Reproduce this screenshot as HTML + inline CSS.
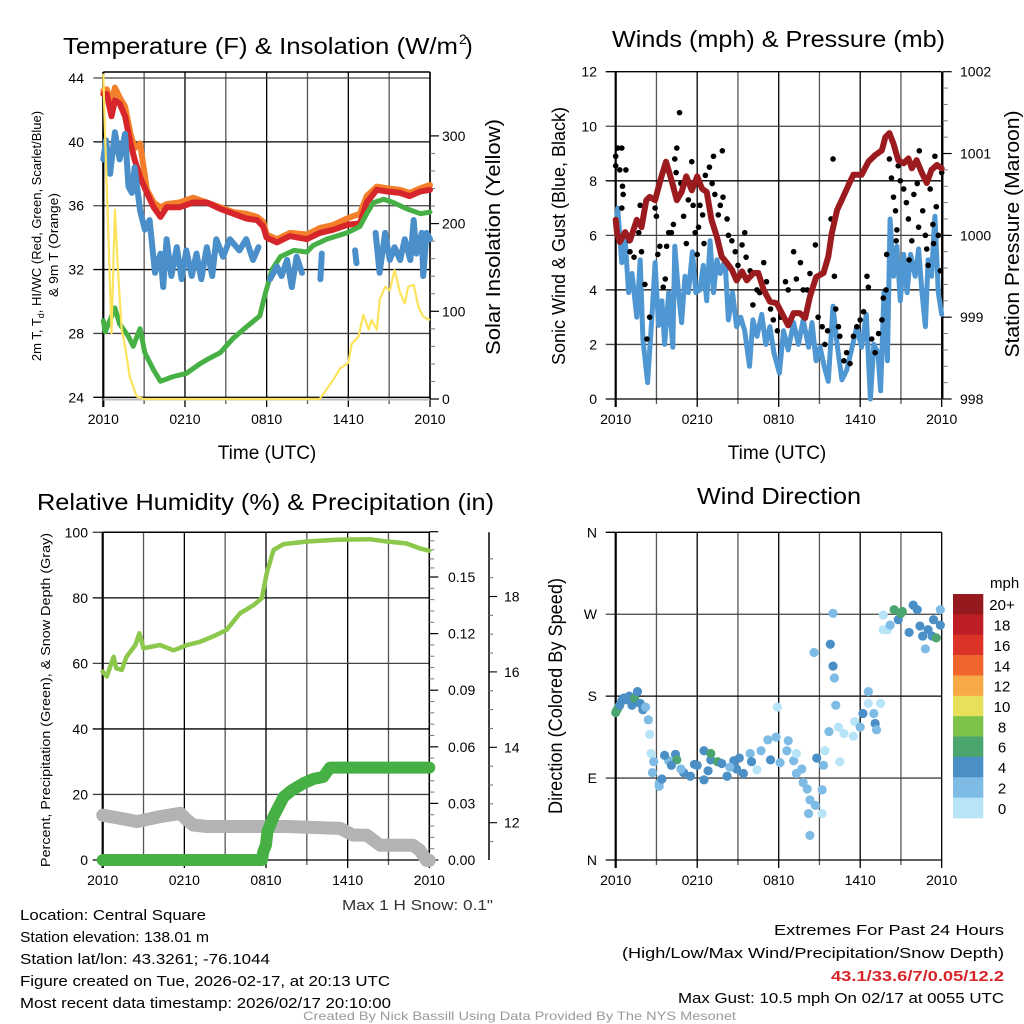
<!DOCTYPE html>
<html><head><meta charset="utf-8"><style>
html,body{margin:0;padding:0;background:#fff;}
svg{display:block;font-family:"Liberation Sans",sans-serif;}
</style></head><body>
<svg id="fig" width="1024" height="1024" viewBox="0 0 1024 1024" xmlns="http://www.w3.org/2000/svg">
<rect x="0" y="0" width="1024" height="1024" fill="#fff"/>
<g font-size="23" fill="#000">
<text x="63" y="54" textLength="395" lengthAdjust="spacingAndGlyphs">Temperature (F) &amp; Insolation (W/m</text><text x="459" y="44" font-size="14">2</text><text x="465" y="54">)</text>
<text x="612" y="47" textLength="333" lengthAdjust="spacingAndGlyphs">Winds (mph) &amp; Pressure (mb)</text>
<text x="37" y="510" textLength="457" lengthAdjust="spacingAndGlyphs">Relative Humidity (%) &amp; Precipitation (in)</text>
<text x="697" y="504" textLength="164" lengthAdjust="spacingAndGlyphs">Wind Direction</text>
</g>
<g id="layer"></g>
<g font-size="15" fill="#000">
<text x="20" y="920" textLength="186" lengthAdjust="spacingAndGlyphs">Location: Central Square</text>
<text x="20" y="942" textLength="189" lengthAdjust="spacingAndGlyphs">Station elevation: 138.01 m</text>
<text x="20" y="964" textLength="250" lengthAdjust="spacingAndGlyphs">Station lat/lon: 43.3261; -76.1044</text>
<text x="20" y="986" textLength="370" lengthAdjust="spacingAndGlyphs">Figure created on Tue, 2026-02-17, at 20:13 UTC</text>
<text x="20" y="1008" textLength="371" lengthAdjust="spacingAndGlyphs">Most recent data timestamp: 2026/02/17 20:10:00</text>
<text x="774" y="935" textLength="230" lengthAdjust="spacingAndGlyphs">Extremes For Past 24 Hours</text>
<text x="622" y="958" textLength="382" lengthAdjust="spacingAndGlyphs">(High/Low/Max Wind/Precipitation/Snow Depth)</text>
<text x="831" y="981" font-weight="bold" fill="#d7262b" textLength="173" lengthAdjust="spacingAndGlyphs">43.1/33.6/7/0.05/12.2</text>
<text x="678" y="1003" textLength="326" lengthAdjust="spacingAndGlyphs">Max Gust: 10.5 mph On 02/17 at 0055 UTC</text>
<text x="342" y="910" fill="#333" textLength="151" lengthAdjust="spacingAndGlyphs">Max 1 H Snow: 0.1"</text>
<text x="303" y="1020" font-size="12" fill="#999" textLength="433" lengthAdjust="spacingAndGlyphs">Created By Nick Bassill Using Data Provided By The NYS Mesonet</text>
</g>
</svg>
<script>
// ---------- DATA ----------
var timeTicks = ["2010","0210","0810","1410","2010"];
// Panel 1: temperature (F) and insolation
var redT = [0,0.25,0.6,0.85,1.2,1.6,2,2.3,2.7,3.2,3.7,4.2,4.65,5.6,6.6,7.6,8.6,9.55,10.5,11.3,11.75,12,12.75,13.7,14.95,15.9,16.9,17.9,18.85,19.35,20.1,20.8,21.8,22.5,23.3,24];
var redV = [43,43,41.6,42.6,42.4,41.6,39.9,38.9,37.8,36.8,35.9,35.3,35.9,35.9,36.2,36.2,35.8,35.5,35.2,35.1,34.7,34,33.7,34.1,33.9,34.3,34.5,34.8,34.9,36.2,37,36.9,36.8,36.6,36.9,37];
var orangeV = [43.2,43.3,42.5,43.4,42.8,42.2,40.5,39.6,39.9,37,36.2,35.9,36.1,36.2,36.5,36.2,35.9,35.6,35.5,35.3,35,34.2,33.9,34.3,34.2,34.6,34.8,35.2,35.5,36.6,37.2,37.1,37,36.8,37.1,37.3];
var greenT = [0,0.15,0.85,1.2,1.85,2.2,2.7,3.05,3.7,4.2,5.15,6.1,7.1,7.7,8.6,9.55,10.5,11.5,11.9,12.4,13,14,14.95,15.4,16.4,17.9,18.85,19.35,19.85,20.6,21.3,22.3,23.3,24];
var greenV = [28.8,28.1,29.6,28.6,27.8,27.2,28.3,26.8,25.7,25,25.3,25.5,26.1,26.4,26.8,27.7,28.4,29.1,30.5,32,32.8,33.2,33.1,33.5,33.9,34.3,34.7,35.5,36.2,36.4,36.2,35.8,35.5,35.6];
var blueT = [0,0.2,0.5,0.85,1.2,1.6,1.85,2.1,2.3,2.7,3.05,3.4,3.8,4.2,4.4,4.65,5,5.4,5.75,6.1,6.5,6.85,7.2,7.6,8,8.3,8.8,9.3,10,10.5,11,11.4,11.8,12.25,12.75,13.1,13.5,13.85,14.2,14.6,14.7,15.9,15.95,16.05,16.1,18.4,18.5,18.6,18.7,19.9,20,20.3,20.7,21.05,21.4,21.8,22.15,22.55,22.8,23,23.4,23.5,23.75,24];
var blueV = [38.9,40.1,38,40.6,38.9,40.5,37.2,36.8,38.4,35.7,34.5,35.1,31.8,33,30.9,33.9,31.6,33.4,31.4,33.2,31.6,33,31.4,33.4,31.6,33.9,32.8,33.9,33.2,33.9,32.6,33.4,null,31.4,32.2,31.6,32.6,30.9,32.8,31.8,null,null,31.4,33,null,null,33.2,32.4,null,null,34.3,31.8,34.3,32.6,33.4,32.6,33.9,32.6,35.1,33,34.3,31.6,34.3,33.9];
var solarT = [0,0.1,0.35,0.6,0.85,1.1,1.35,1.6,1.95,2.45,2.95,15.9,16.9,17.4,18,18.25,18.75,19.1,19.5,19.7,20.1,20.3,20.7,21.05,21.4,21.8,22.15,22.4,22.8,23.15,23.5,24];
var solarV = [371,314,197,75,216,140,79,60,25,3,0,0,22,35,41,63,71,96,79,90,79,113,128,124,147,121,109,128,130,105,94,90];
var tempTicks = [24,28,32,36,40,44];
var solarTicks = [0,100,200,300];
// Panel 2: wind, gust, pressure
var windT = [0,0.15,0.45,0.7,0.95,1.2,1.55,1.8,2,2.35,2.65,2.9,3.15,3.4,3.6,3.9,4.2,4.35,4.6,4.85,5.1,5.35,5.65,5.9,6.2,6.45,6.7,6.95,7.2,7.45,7.7,8.05,8.3,8.6,8.9,9.2,9.5,9.85,10.1,10.4,10.75,11.05,11.35,11.65,12.05,12.35,12.7,13.1,13.45,13.8,14.2,14.45,14.75,15.05,15.35,15.65,16,16.3,16.65,17,17.4,17.75,18.1,18.45,18.75,19,19.3,19.5,19.75,20,20.2,20.45,20.7,20.95,21.2,21.45,21.7,22.05,22.3,22.55,22.8,23,23.25,23.5,23.75,24];
var windV = [6.3,7,5,5.8,3.9,4.6,3,5.1,2.2,0.6,2.9,5,2.7,3.6,2,3.9,1.9,5.6,4,2.8,4.5,3.9,5.4,3.9,4,4.9,3.6,5.8,3.9,5.1,4.6,5.1,2.9,3.9,2.65,3,2.5,1.2,2.9,2.3,3.1,2,2.65,1.7,0.95,2.5,1.8,2.8,2,2.9,1.9,2.8,1.4,1.9,1.2,0.65,3.4,2,0.7,1.05,1.9,2.65,1.9,3.1,0,2,1.7,0.3,3.9,1.4,6.6,4.5,5.6,3.6,5.3,3.9,5.3,4.5,5.5,3.9,2.65,5.1,4.5,6.7,3.9,3.1];
var gustT = [0,0,0.15,0.45,0.3,0.75,0.5,0.55,0.45,1,1.05,1.35,1.7,1.8,1.9,2.15,2.3,2.5,2.9,3,3.1,3.25,3.5,3.65,3.75,3.9,4.1,4.25,4.35,4.5,4.45,4.7,4.8,5,5.2,5.35,5.6,5.7,5.85,6,6.1,6.2,6.4,6.5,6.6,6.9,7.2,7.1,7.3,7.55,7.7,7.85,7.9,8.2,8.3,8.55,8.8,9,9.3,9.5,9.6,9.9,10.1,10.4,10.6,10.9,11.1,11.4,11.6,11.9,12.15,12.5,12.7,13.1,13.3,13.6,13.8,14.1,14.3,14.7,14.9,15.2,15.4,15.6,15.85,16,16.1,16.2,16.4,16.5,16.8,17,17.25,17.5,17.75,18,18.25,18.5,18.6,18.85,19.1,19.35,19.6,19.7,19.9,19.95,20.15,20.3,20.45,20.6,20.7,20.65,20.8,20.95,21.2,21.4,21.55,21.6,21.8,21.95,22.2,22.35,22.3,22.6,22.8,22.9,23,23.15,23.35,23.4,23.5,23.6,23.75,23.9,24];
var gustV = [8.55,8.9,9.2,9.2,8.4,8.4,7.8,7.5,7,5.8,5.4,5.2,6.1,7.1,5.4,4.2,2.2,3,7,6.7,5.3,5.6,4.1,4.4,5.6,6.1,6.1,6.4,8.8,9.2,8.3,10.5,7.9,6.7,5.7,7.3,8.7,7.1,6.1,5.3,6.3,7.1,6.75,5.7,8.2,8.5,8.9,7.9,7.5,6.75,7.1,9.1,7.4,6.6,6,5.8,5.4,4.9,5.65,6.1,5.2,4.7,3.45,4,3.9,5,4.3,3.3,2.9,2.5,3,4.3,4,5.4,4.4,5,4,4,4.6,5.65,3,2.65,2,2.5,6.6,8.8,4.5,3.3,2.65,2.3,1.4,1.7,1.3,2.3,2.65,2.9,3.2,4.5,4.1,2.2,1.7,2.4,2.9,3.7,4,5.3,8.8,8.1,7.4,6.9,6.2,5.8,8.55,8,7.7,7.2,6.6,5.1,5.8,7.5,7.9,9.1,6.3,6.9,6,5.5,4.9,7.7,6.4,5.7,8.9,7.05,6,4.7,8.3];
var presT = [0,0.1,0.3,0.7,1.05,1.55,1.9,2.25,2.5,2.9,3.3,3.7,4.1,4.5,4.85,5.2,5.6,6,6.35,6.7,7.05,7.45,7.8,8.2,8.55,8.9,9.3,9.65,10.15,10.5,10.9,11.35,11.85,12.35,12.7,13.1,13.55,13.95,14.3,14.75,15.3,15.65,15.9,16.3,16.75,17.15,17.5,18.1,18.6,19.1,19.6,19.85,20.15,20.45,20.8,21.2,21.55,21.8,22.15,22.55,22.9,23.25,23.65,24];
var presV = [1000.19,1000.02,999.92,1000.04,999.94,1000.19,1000.1,1000.43,1000.47,1000.43,1000.68,1000.9,1000.68,1000.43,1000.53,1000.72,1000.55,1000.72,1000.57,1000.53,1000.19,999.98,999.74,999.66,999.58,999.45,999.56,999.45,999.54,999.54,999.33,999.19,999.17,999.01,998.9,999.05,999.05,998.99,999.25,999.49,999.54,999.74,1000.02,1000.31,1000.47,1000.62,1000.74,1000.74,1000.9,1000.98,1001.04,1001.2,1001.25,1001.12,1000.92,1000.88,1000.94,1000.82,1000.92,1000.76,1000.64,1000.8,1000.86,1000.82];
var windTicks = [0,2,4,6,8,10,12];
var presTicks = [998,999,1000,1001,1002];
// Panel 3: RH, precip, snow
var rhT = [0,0.3,0.8,1,1.4,1.75,2.4,2.7,3,4.2,5.2,6.2,7.15,8.1,9.1,10.1,11.1,11.7,12.05,12.55,13.3,15,17.2,19.6,20.9,22.3,23.3,24];
var rhV = [57.5,56,62,58.5,58,62,65.6,69.2,64.6,65.6,64,65.6,66.6,68.2,70.2,75.3,77.8,79.9,87.5,94.6,96.4,97.2,97.7,97.9,97.2,96.6,95.1,94.4];
var precipT = [0,11.7,11.8,12,12.1,12.55,13.3,13.9,14.75,15.5,16.2,16.7,24];
var precipV = [0,0,0.0044,0.008,0.015,0.023,0.0335,0.037,0.0406,0.043,0.044,0.049,0.049];
var snowT = [0,2,2.5,4.2,5.7,6.2,6.65,7.65,13.5,17.45,18.4,19.4,20.4,22.8,23.3,23.8,24];
var snowV = [12.2,12.07,12.03,12.16,12.25,12.07,11.94,11.9,11.9,11.85,11.67,11.67,11.4,11.4,11.27,11.0,11.0];
var rhTicks = [0,20,40,60,80,100];
var precipTicks = [0,0.03,0.06,0.09,0.12,0.15];
var precipLabels = ["0.00","0.03","0.06","0.09","0.12","0.15"];
var snowTicks = [12,14,16,18];
// Panel 4: wind direction (deg) colored by speed (mph)
var dirT = [0,0.1,0.2,0.3,0.45,0.6,0.8,1,1.2,1.4,1.6,1.8,2,2.2,2.4,2.5,2.6,2.8,2.7,3.2,3.2,3.4,3.9,4.4,4.5,5,5.5,6,6.5,6.5,7,7,7.5,7.8,8.2,8.7,8.9,9.4,9.9,10.4,10.7,11.2,11.4,11.8,11.9,12.1,12.6,12.7,13.1,13.3,13.7,13.3,13.8,14.1,14.3,14.7,14.2,14.6,14.8,14.3,15.2,15.2,15.3,15.8,16,16.1,16,16.2,16.4,15.7,15.4,16.5,16.8,17.5,17.6,18,18.2,18.6,18.6,19,19.1,19.2,19.5,19.7,19.7,20,20.2,20.5,20.8,21,21.1,21.6,21.9,22.2,22.4,22.6,22.8,23,23.3,23.4,23.6,23.9,23.9,4.8,5.8,6.8,8.4,9.1,10,3.6,4.1];
var dirV = [162,165,168,170,175,178,176,180,170,178,185,172,165,168,154,138,117,108,96,84,81,89,109,116,110,96,92,104,88,120,110,117,108,106,92,109,100,95,117,99,120,132,110,135,168,107,120,131,109,117,100,95,85,78,66,60,51,228,112,27,51,77,104,237,213,200,271,170,146,141,120,108,139,136,152,146,161,185,172,161,150,143,172,269,253,253,258,275,264,271,273,250,280,275,257,246,232,253,246,264,244,275,258,100,105,98,102,112,108,115,104];
var dirSpd = [6.5,6.5,6.5,4.5,4.5,4.5,4.5,4.5,4.5,6.5,4.5,4.5,4.5,2.5,2.5,1,1,2.5,2.5,2.5,2.5,4.5,2.5,4.5,6.5,4.5,4.5,4.5,4.5,4.5,4.5,6.5,6.5,4.5,4.5,4.5,4.5,4.5,2.5,1,2.5,2.5,4.5,2.5,1,2.5,2.5,2.5,2.5,1,2.5,2.5,2.5,2.5,2.5,2.5,2.5,2.5,4.5,2.5,1,2.5,2.5,4.5,4.5,2.5,2.5,2.5,1,2.5,1,1,1,1,1,2.5,4.5,2.5,1,2.5,4.5,2.5,1,1,1,1,2.5,6.5,4.5,6.5,6.5,4.5,4.5,4.5,4.5,4.5,2.5,4.5,4.5,4.5,6.5,2.5,4.5,2.5,4.5,4.5,2.5,4.5,4.5,4.5,4.5,4.5,4.5,4.5,4.5];
var dirTicks = [0,90,180,270,360];
var dirLabels = ["N","E","S","W","N"];
var cbLabels = ["20+","18","16","14","12","10","8","6","4","2","0"];
var cbColors = ["#941a1d","#bd1f25","#dc3328","#f0652d","#f7a847","#e8e05a","#7dc24b","#4aa66e","#4a8fc6","#7ebce5","#b8e4f8"];

// ---------- DRAWING ----------
var NS = "http://www.w3.org/2000/svg";
var layer = document.getElementById('layer');
function mk(tag, attrs, parent) {
  var e = document.createElementNS(NS, tag);
  for (var k in attrs) e.setAttribute(k, attrs[k]);
  (parent || layer).appendChild(e);
  return e;
}
function lin(d0, d1, r0, r1) { return function (v) { return r0 + (v - d0) / (d1 - d0) * (r1 - r0); }; }
function path(xs, ys, sx, sy) {
  var d = "", pen = false;
  for (var i = 0; i < xs.length; i++) {
    if (ys[i] === null) { pen = false; continue; }
    d += (pen ? "L" : "M") + sx(xs[i]).toFixed(1) + "," + sy(ys[i]).toFixed(1);
    pen = true;
  }
  return d;
}

function frame(x0, x1, yTop, yBot, hgrid, name) {
  var g = mk('g', {});
  
  
  for (var i = 0; i <= 8; i++) {
    var x = x0 + (x1 - x0) * i / 8;
    mk('line', {x1: x, x2: x, y1: yTop, y2: yBot + (i % 2 == 0 ? 8 : 5), stroke: i % 2 ? '#555' : '#000', 'stroke-width': 1.3}, g);
  }
  hgrid.forEach(function (y, i) {
    mk('line', {x1: x0 - 10, x2: x1, y1: y, y2: y, stroke: i % 2 ? '#444' : '#000', 'stroke-width': 1.3}, g);
  });
  mk('line', {x1: x0, x2: x0, y1: yTop, y2: yBot + 8, stroke: '#000', 'stroke-width': 2.2}, g);
  var tg = mk('g', {'font-size': 14, 'text-anchor': 'middle'});
  
  
  timeTicks.forEach(function (t, i) {
    var tx = mk('text', {x: x0 + (x1 - x0) * i / 4, y: yBot + 25}, tg);
    tx.textContent = t;
  });
}
function yLabels(vals, labels, sy, x, anchor, name, fs) {
  var g = mk('g', {'font-size': fs || 14, 'text-anchor': anchor});
  
  
  vals.forEach(function (v, i) {
    var t = mk('text', {x: x, y: sy(v) + 5}, g);
    t.textContent = labels ? labels[i] : v;
  });
}
function rotLabel(text, cx, cy, len, fs, name) {
  var t = mk('text', {x: cx, y: cy, 'font-size': fs, 'text-anchor': 'middle', transform: 'rotate(-90 ' + cx + ' ' + cy + ')', textLength: len, lengthAdjust: 'spacingAndGlyphs'});
  
  
  t.textContent = text;
  return t;
}
function rightAxis(x, yTop, yBot, ticks, sy, name) {
  var g = mk('g', {});
  
  
  mk('line', {x1: x, x2: x, y1: yTop, y2: yBot, stroke: '#000', 'stroke-width': 1.5}, g);
  ticks.forEach(function (v) { mk('line', {x1: x, x2: x + 9, y1: sy(v), y2: sy(v), stroke: '#000', 'stroke-width': 1.2}, g); });
  for (var i = 0; i < ticks.length - 1; i++) {
    for (var k = 1; k < 5; k++) {
      var y = sy(ticks[i]) + (sy(ticks[i + 1]) - sy(ticks[i])) * k / 5;
      mk('line', {x1: x, x2: x + 5, y1: y, y2: y, stroke: '#777', 'stroke-width': 1}, g);
    }
  }
}

// ===== Panel 1 =====
(function () {
  var sx = lin(0, 24, 103.3, 430);
  var sy = lin(24, 44, 397.3, 78);
  var sr = lin(0, 100, 399, 311.3);
  frame(103.3, 430, 72, 399, tempTicks.map(sy), 'temp-panel');
  mk('line', {x1: 103.3, x2: 430, y1: 72, y2: 72, stroke: '#000', 'stroke-width': 1.5});
  mk('line', {x1: 103.3, x2: 430, y1: 399.5, y2: 399.5, stroke: '#bbb', 'stroke-width': 2});
  rightAxis(430, 72, 399, [0, 100, 200, 300], sr, 'solar-axis');
  yLabels(tempTicks, null, sy, 84, 'end', 'temp-y-tick-labels');
  yLabels(solarTicks, null, sr, 442, 'start', 'solar-y-tick-labels');
  var s;
  s = mk('path', {d: path(redT, orangeV, sx, sy), fill: 'none', stroke: '#f47f2a', 'stroke-width': 6, 'stroke-linejoin': 'round', 'stroke-linecap': 'round'});
   
  s = mk('path', {d: path(redT, redV, sx, sy), fill: 'none', stroke: '#d7262b', 'stroke-width': 6, 'stroke-linejoin': 'round', 'stroke-linecap': 'round'});
   
  s = mk('path', {d: path(greenT, greenV, sx, sy), fill: 'none', stroke: '#46b045', 'stroke-width': 5, 'stroke-linejoin': 'round', 'stroke-linecap': 'round'});
   
  s = mk('path', {d: path(blueT, blueV, sx, sy), fill: 'none', stroke: '#4a8fc9', 'stroke-width': 6, 'stroke-linejoin': 'round', 'stroke-linecap': 'round'});
   
  s = mk('path', {d: path(solarT, solarV, sx, sr), fill: 'none', stroke: '#fde35b', 'stroke-width': 2.2, 'stroke-linejoin': 'round'});
   
  var t = mk('text', {x: 267, y: 459, 'font-size': 19, 'text-anchor': 'middle'});
   
  t.textContent = 'Time (UTC)';
  var lab = mk('text', {x: 41, y: 236, 'font-size': 13, 'text-anchor': 'middle', transform: 'rotate(-90 41 236)'});
   
  lab.innerHTML = '2m T, T<tspan font-size="9" dy="3">d</tspan><tspan dy="-3">, HI/WC (Red, Green, Scarlet/Blue)</tspan>';
  rotLabel('& 9m T (Orange)', 58, 245, 104, 13, 'temp-y-axis-title-line2');
  rotLabel('Solar Insolation (Yellow)', 500, 237, 236, 20, 'solar-y-axis-title');
})();

// ===== Panel 2 =====
(function () {
  var sx = lin(0, 24, 615.7, 941.7);
  var sy = lin(0, 12, 399, 71.7);
  var sp = lin(998, 1002, 399, 71.7);
  frame(615.7, 941.7, 71.7, 399, windTicks.map(sy), 'wind-panel');
  rightAxis(942.7, 71.7, 399, presTicks, sp, 'pressure-axis');
  yLabels(windTicks, null, sy, 597, 'end', 'wind-y-tick-labels');
  yLabels(presTicks, null, sp, 960, 'start', 'pressure-y-tick-labels');
  var s = mk('path', {d: path(windT, windV, sx, sy), fill: 'none', stroke: '#4f97d2', 'stroke-width': 5, 'stroke-linejoin': 'round', 'stroke-linecap': 'round'});
   
  var g = mk('g', {fill: '#000'});
   
  for (var i = 0; i < gustT.length; i++) {
    var c = mk('circle', {cx: sx(gustT[i]), cy: sy(gustV[i]), r: 2.8}, g);
    
    
  }
  s = mk('path', {d: path(presT, presV, sx, sp), fill: 'none', stroke: '#9b1b1f', 'stroke-width': 6, 'stroke-linejoin': 'round', 'stroke-linecap': 'round'});
   
  var t = mk('text', {x: 777, y: 459, 'font-size': 19, 'text-anchor': 'middle'});
   
  t.textContent = 'Time (UTC)';
  rotLabel('Sonic Wind & Gust (Blue, Black)', 565, 236, 258, 18, 'wind-y-axis-title');
  rotLabel('Station Pressure (Maroon)', 1019, 234, 247, 20, 'pressure-y-axis-title');
})();

// ===== Panel 3 =====
(function () {
  var sx = lin(0, 24, 102.7, 429.3);
  var sy = lin(0, 100, 860, 532.3);
  var sp = lin(0, 0.03, 860, 803.4);
  var ss = lin(12, 14, 822.7, 747.3);
  frame(102.7, 429.3, 532.3, 860, rhTicks.map(sy), 'rh-panel');
  mk('line', {x1: 102.7, x2: 429.3, y1: 532.3, y2: 532.3, stroke: '#000', 'stroke-width': 1.5});
  rightAxis(429.3, 532.3, 860, precipTicks.concat([0.174]), sp, 'precip-axis');
  var sg = mk('g', {});
   
  mk('line', {x1: 489, x2: 489, y1: 532.3, y2: 860, stroke: '#000', 'stroke-width': 1.5}, sg);
  [11, 11.5, 12, 12.5, 13, 13.5, 14, 14.5, 15, 15.5, 16, 16.5, 17, 17.5, 18, 18.5, 19].forEach(function (v) {
    var y = ss(v); if (y < 533 || y > 860) return;
    mk('line', {x1: 489, x2: 489 + (v % 2 === 0 ? 8 : 4), y1: y, y2: y, stroke: v % 2 === 0 ? '#000' : '#777', 'stroke-width': 1.1}, sg);
  });
  yLabels(rhTicks, null, sy, 88, 'end', 'rh-y-tick-labels');
  yLabels(precipTicks, precipLabels, sp, 448, 'start', 'precip-y-tick-labels');
  yLabels(snowTicks, null, ss, 504, 'start', 'snow-y-tick-labels');
  var s = mk('path', {d: path(snowT, snowV, sx, ss), fill: 'none', stroke: '#b3b3b3', 'stroke-width': 13, 'stroke-linejoin': 'round', 'stroke-linecap': 'round'});
   
  s = mk('path', {d: path(precipT, precipV, sx, sp), fill: 'none', stroke: '#46b045', 'stroke-width': 12, 'stroke-linejoin': 'round', 'stroke-linecap': 'round'});
   
  s = mk('path', {d: path(rhT, rhV, sx, sy), fill: 'none', stroke: '#8cc84b', 'stroke-width': 4.5, 'stroke-linejoin': 'round', 'stroke-linecap': 'round'});
   
  rotLabel('Percent, Precipitation (Green), & Snow Depth (Gray)', 50, 700, 334, 13, 'rh-y-axis-title');
})();

// ===== Panel 4 =====
(function () {
  var sx = lin(0, 24, 615.7, 941.7);
  var sy = lin(0, 360, 860, 532.3);
  frame(615.7, 941.7, 532.3, 860, dirTicks.map(sy), 'direction-panel');
  yLabels(dirTicks, dirLabels, sy, 597, 'end', 'direction-y-tick-labels');
  function col(s) {
    if (s === undefined || s === null || isNaN(s)) s = 4.5;
    var i = Math.max(0, Math.min(10, Math.floor(s / 2)));
    return cbColors[10 - i];
  }
  var g = mk('g', {});
   
  for (var i = 0; i < dirT.length; i++) {
    var c = mk('circle', {cx: sx(dirT[i]), cy: sy(dirV[i]), r: 4.6, fill: col(dirSpd[i])}, g);
    
    
  }
  rotLabel('Direction (Colored By Speed)', 562, 696, 236, 19, 'direction-y-axis-title');
  var cb = mk('g', {});
   
  var h = (818 - 594) / cbColors.length;
  cbColors.forEach(function (c, i) {
    var r = mk('rect', {x: 953, y: 594 + i * h, width: 30.3, height: h + 0.3, fill: c}, cb);
    
    
    var t = mk('text', {x: 1002, y: 594 + i * h + h / 2 + 6, 'font-size': 15, 'text-anchor': 'middle'}, cb);
    t.textContent = cbLabels[i];
  });
  var m = mk('text', {x: 990, y: 588, 'font-size': 15}, cb);
  m.textContent = 'mph';
})();
</script>
</body></html>
